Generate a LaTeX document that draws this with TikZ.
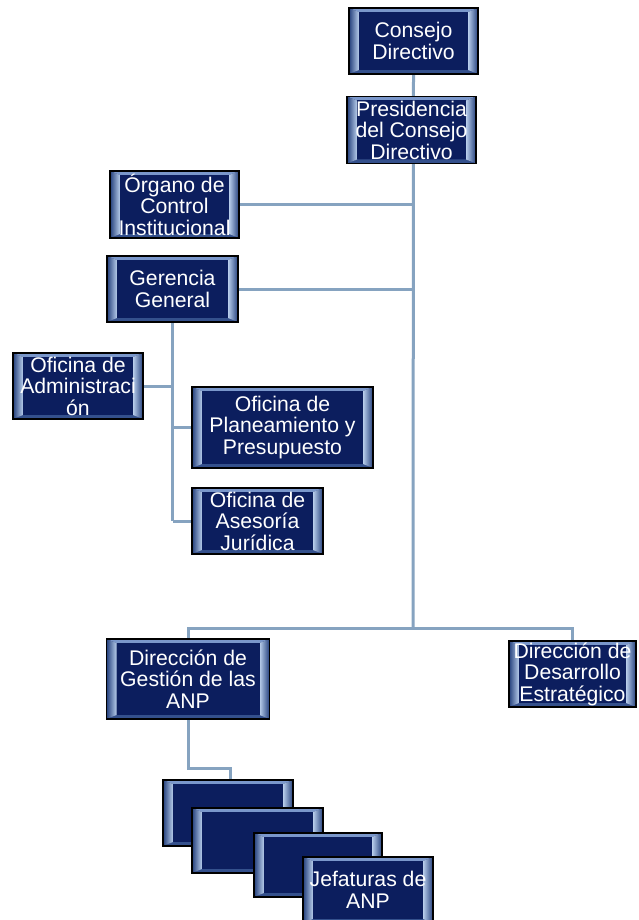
\documentclass[tikz,border=0pt]{standalone}
\usepackage{fontspec}
\setmainfont{Liberation Sans}
\usetikzlibrary{calc,backgrounds}
\definecolor{navy}{HTML}{0C1E5E}
\definecolor{bvtop}{HTML}{7A97CB}
\definecolor{bvbot}{HTML}{34508C}
\definecolor{bvdark}{HTML}{24407C}
\definecolor{bvlight}{HTML}{B8CDEB}
\definecolor{linkc}{HTML}{86A3C0}
\tikzset{
  bevel/.style={path picture={
    \coordinate (bvnw) at (path picture bounding box.north west);
    \coordinate (bvne) at (path picture bounding box.north east);
    \coordinate (bvsw) at (path picture bounding box.south west);
    \coordinate (bvse) at (path picture bounding box.south east);
    \coordinate (binw) at ([xshift=10pt,yshift=-4pt]bvnw);
    \coordinate (bine) at ([xshift=-10pt,yshift=-4pt]bvne);
    \coordinate (bisw) at ([xshift=10pt,yshift=4pt]bvsw);
    \coordinate (bise) at ([xshift=-10pt,yshift=4pt]bvse);
    \fill[bvtop] (bvnw) -- (bvne) -- (bine) -- (binw) -- cycle;
    \fill[bvbot] (bvsw) -- (bvse) -- (bise) -- (bisw) -- cycle;
    \shade[left color=bvdark, right color=bvlight] (bvnw) -- (binw) -- (bisw) -- (bvsw) -- cycle;
    \shade[left color=bvlight, right color=bvdark] (bvne) -- (bine) -- (bise) -- (bvse) -- cycle;
    \fill[navy] (binw) rectangle (bise);
  }},
  orgbox/.style 2 args={rectangle, draw=black, line width=1.6pt, fill=navy, bevel,
    text=white, align=center, inner sep=0pt,
    font=\fontsize{21.2}{21.5}\selectfont,
    minimum width=#1pt, minimum height=#2pt},
  link/.style={draw=linkc, line width=3pt}
}
\begin{document}
\begin{tikzpicture}[x=1pt,y=-1pt]
\useasboundingbox (0,0) rectangle (638,920);
\node[orgbox={129}{66}] (cd) at (413.5,41) {Consejo\\Directivo};
\node[orgbox={129}{67}] (pcd) at (411.5,130) {Presidencia\\del Consejo\\Directivo};
\node[orgbox={129}{67}] (oci) at (174.5,204.5) {Órgano de\\Control\\Institucional};
\node[orgbox={131}{66}] (gg) at (172.5,289) {Gerencia\\General};
\node[orgbox={130}{66}] (oa) at (78,386) {Oficina de\\Administraci\\ón};
\node[orgbox={181}{81}] (opp) at (282.5,427.5) {Oficina de\\Planeamiento y\\Presupuesto};
\node[orgbox={131}{66}] (oaj) at (257.5,521) {Oficina de\\Asesoría\\Jurídica};
\node[orgbox={163}{80}] (dg) at (188,679) {Dirección de\\Gestión de las\\ANP};
\node[orgbox={127}{66}] (dde) at (572.5,674) {Dirección de\\Desarrollo\\Estratégico};
\node[orgbox={130}{66}] (j1) at (228,813) {};
\node[orgbox={131}{65}] (j2) at (257.5,840.5) {};
\node[orgbox={128}{64}] (j3) at (318,865) {};
\node[orgbox={130}{66}] (j4) at (368,890) {Jefaturas de\\ANP};
\coordinate (trunk) at (413,628);
\begin{scope}[on background layer]
  \draw[link] (cd.south) -- (trunk);
  \draw[link] (oci.east) -- (oci.east -| trunk);
  \draw[link] (gg.east) -- (gg.east -| trunk);
  \draw[link] (gg.south) -- (gg.south |- oaj.west);
  \draw[link] (oa.east) -- (oa.east -| gg.south);
  \draw[link] (opp.west) -- (opp.west -| gg.south);
  \draw[link] (oaj.west) -- (oaj.west -| gg.south);
  \draw[link] (dg.north) |- (trunk) -| (dde.north);
  \draw[link] (dg.south) |- ([xshift=2pt,yshift=11pt]j1.north) -- ([xshift=2pt]j1.north);
\end{scope}
\end{tikzpicture}
\end{document}
